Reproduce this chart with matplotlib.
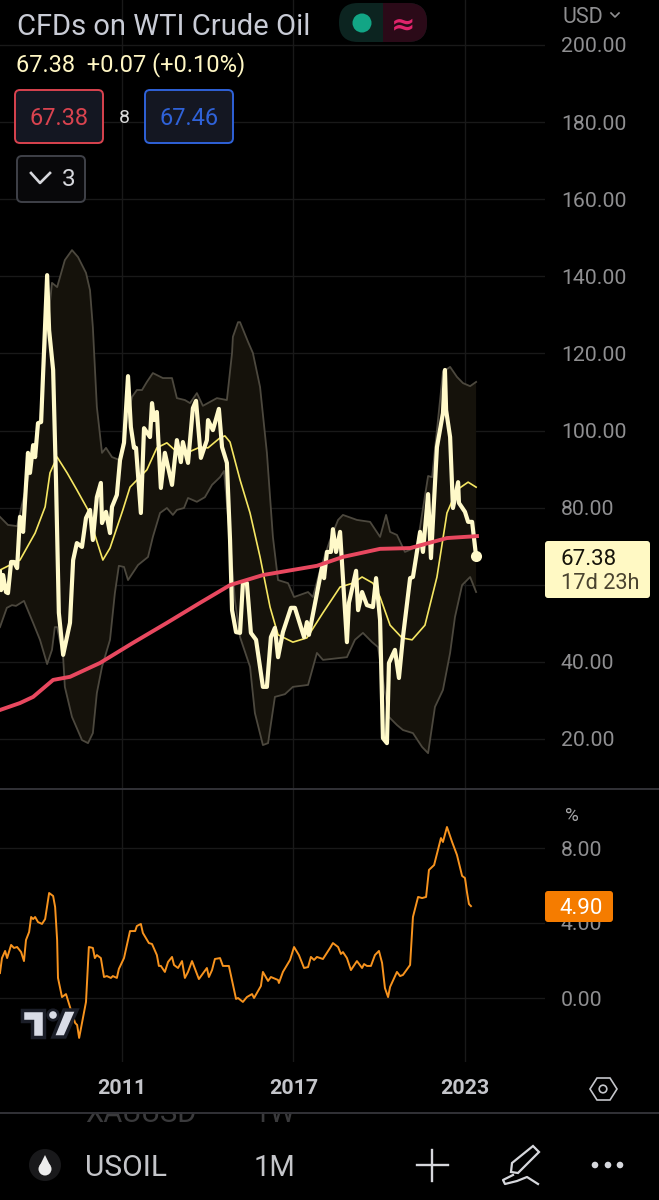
import matplotlib
matplotlib.use("Agg")
import numpy as np
from matplotlib import pyplot as plt
from matplotlib.patches import FancyBboxPatch, Circle, Rectangle, Polygon

plt.rcParams["font.family"] = ["Roboto", "DejaVu Sans"]

# monthly close
price_t = [2006.73, 2006.77, 2006.84, 2006.94, 2007.01, 2007.12, 2007.22, 2007.33, 2007.43, 2007.54,
           2007.71, 2007.78, 2007.89, 2007.96, 2008.06, 2008.17, 2008.38, 2008.45, 2008.59, 2008.69,
           2008.79, 2008.94, 2009.18, 2009.29, 2009.42, 2009.60, 2009.74, 2009.88, 2009.98, 2010.12,
           2010.26, 2010.30, 2010.44, 2010.58, 2010.65, 2010.82, 2010.93, 2011.07, 2011.21, 2011.31,
           2011.42, 2011.49, 2011.66, 2011.77, 2011.98, 2012.05, 2012.12, 2012.22, 2012.36, 2012.50,
           2012.75, 2012.92, 2013.06, 2013.13, 2013.31, 2013.48, 2013.59, 2013.76, 2013.97, 2014.01,
           2014.18, 2014.39, 2014.50, 2014.67, 2014.78, 2014.85, 2014.99, 2015.13, 2015.23, 2015.37,
           2015.51, 2015.69, 2015.93, 2016.07, 2016.21, 2016.35, 2016.46, 2016.63, 2016.91, 2017.05,
           2017.37, 2017.47, 2017.54, 2018.00, 2018.07, 2018.17, 2018.31, 2018.38, 2018.49, 2018.63,
           2018.87, 2018.94, 2019.19, 2019.26, 2019.40, 2019.57, 2019.78, 2019.89, 2020.03, 2020.13,
           2020.27, 2020.34, 2020.55, 2020.69, 2020.83, 2021.08, 2021.18, 2021.43, 2021.53, 2021.71,
           2021.81, 2022.02, 2022.23, 2022.30, 2022.34, 2022.48, 2022.58, 2022.76, 2022.79, 2023.00,
           2023.11, 2023.25, 2023.39]
price_v = [63.3, 58.6, 62.5, 58.1, 57.8, 65.9, 65.9, 64.3, 77.6, 73.7,
           94.2, 89.0, 96.2, 93.1, 101.9, 102.2, 140.3, 126.0, 115.7, 87.2,
           52.7, 41.8, 50.1, 66.4, 70.8, 69.8, 77.3, 79.4, 71.6, 82.7,
           86.4, 76.0, 78.9, 73.4, 80.2, 83.3, 92.3, 96.8, 114.1, 100.9,
           95.5, 95.5, 78.6, 100.6, 98.3, 107.1, 102.7, 104.8, 85.1, 94.2,
           85.9, 97.5, 91.8, 97.0, 91.6, 105.8, 107.7, 92.9, 97.5, 102.7,
           100.1, 105.6, 95.7, 91.6, 71.6, 53.4, 47.7, 47.5, 60.4, 60.4,
           47.5, 45.7, 33.5, 33.5, 46.4, 48.8, 41.2, 47.7, 54.0, 54.0,
           46.4, 50.3, 47.0, 64.6, 61.7, 68.5, 68.5, 74.4, 68.5, 73.7,
           45.1, 55.3, 63.6, 53.4, 58.1, 54.7, 54.2, 61.7, 50.8, 20.2,
           18.9, 39.7, 43.1, 35.8, 46.4, 61.7, 62.0, 73.7, 68.5, 83.5,
           66.9, 95.7, 104.5, 115.7, 105.3, 98.3, 79.9, 86.6, 81.2, 78.9,
           76.3, 76.3, 67.38]

basis_t = [2006.73, 2007.43, 2007.96, 2008.31, 2008.48, 2008.73, 2009.08, 2009.42, 2009.81, 2010.05,
           2010.33, 2010.58, 2011.03, 2011.28, 2011.87, 2012.22, 2012.57, 2012.85, 2013.27, 2013.73,
           2014.01, 2014.43, 2014.60, 2014.78, 2015.13, 2015.48, 2015.83, 2016.18, 2016.46, 2016.98,
           2017.47, 2018.03, 2018.63, 2019.08, 2019.40, 2019.78, 2020.03, 2020.38, 2020.80, 2021.15,
           2021.60, 2022.02, 2022.37, 2022.72, 2023.11, 2023.39]
basis_v = [63.8, 66.4, 73.4, 80.2, 89.0, 93.1, 89.0, 84.6, 79.4, 72.9,
           66.4, 69.5, 79.4, 85.3, 89.8, 95.5, 96.8, 94.9, 94.2, 95.7,
           95.5, 98.1, 98.6, 97.0, 87.2, 78.6, 67.2, 54.2, 47.0, 45.1,
           46.2, 52.7, 59.4, 60.4, 62.0, 60.4, 56.8, 49.5, 46.2, 45.7,
           49.5, 62.0, 78.6, 84.6, 86.6, 85.3]

long_ma_t = [2006.73, 2007.43, 2007.89, 2008.59, 2009.18, 2010.23, 2011.38, 2012.57, 2013.73, 2014.78,
             2015.13, 2015.93, 2017.82, 2018.73, 2020.03, 2021.08, 2022.37, 2023.42]
long_ma_v = [27.5, 29.3, 30.9, 35.3, 36.1, 39.7, 44.9, 50.1, 55.3, 59.9,
             60.7, 62.5, 64.9, 67.2, 69.3, 69.5, 72.1, 72.6]

upper_t = [2006.73, 2007.01, 2007.33, 2007.78, 2008.13, 2008.38, 2008.55, 2008.73, 2009.00, 2009.25,
           2009.46, 2009.74, 2009.88, 2009.98, 2010.12, 2010.30, 2010.44, 2010.65, 2010.93, 2011.10,
           2011.35, 2011.52, 2011.70, 2011.87, 2012.08, 2012.43, 2012.75, 2012.92, 2013.20, 2013.38,
           2013.62, 2013.83, 2014.32, 2014.67, 2014.85, 2014.88, 2015.06, 2015.13, 2015.41, 2015.58,
           2015.83, 2016.07, 2016.28, 2016.46, 2016.81, 2017.02, 2017.51, 2017.68, 2017.93, 2018.28,
           2018.56, 2018.73, 2019.22, 2019.68, 2020.03, 2020.24, 2020.38, 2020.62, 2020.90, 2021.32,
           2021.71, 2021.85, 2022.23, 2022.48, 2022.72, 2022.93, 2023.18, 2023.39]
upper_v = [77.6, 75.5, 75.2, 89.8, 102.7, 126.1, 138.3, 137.2, 144.2, 146.8,
           145.0, 140.9, 136.4, 126.8, 106.1, 94.2, 95.5, 93.1, 92.3, 100.1,
           108.7, 110.5, 110.5, 112.6, 114.9, 113.6, 113.6, 108.4, 107.9, 107.1,
           109.7, 106.4, 108.4, 107.9, 120.1, 124.3, 128.1, 128.1, 123.0, 120.1,
           111.3, 94.2, 72.4, 61.2, 60.4, 56.8, 58.1, 56.8, 63.8, 71.6,
           76.8, 78.1, 76.8, 76.3, 72.4, 78.1, 73.7, 72.9, 68.5, 69.8,
           88.2, 87.9, 115.2, 116.5, 113.9, 112.3, 111.5, 112.6]

lower_t = [2006.73, 2006.97, 2007.15, 2007.29, 2007.57, 2007.89, 2008.13, 2008.38, 2008.55, 2008.65,
           2008.73, 2008.94, 2009.00, 2009.25, 2009.60, 2009.81, 2009.98, 2010.12, 2010.30, 2010.58,
           2010.75, 2010.89, 2011.07, 2011.21, 2011.56, 2011.91, 2012.08, 2012.33, 2012.57, 2012.78,
           2012.92, 2013.17, 2013.31, 2013.62, 2013.90, 2014.15, 2014.43, 2014.57, 2014.78, 2014.95,
           2015.13, 2015.48, 2015.65, 2015.93, 2016.11, 2016.35, 2016.70, 2016.98, 2017.51, 2017.82,
           2018.03, 2018.87, 2019.15, 2019.43, 2019.75, 2019.96, 2020.13, 2020.34, 2020.62, 2020.83,
           2021.18, 2021.50, 2021.71, 2021.95, 2022.23, 2022.48, 2022.65, 2022.90, 2023.18, 2023.39]
lower_v = [49.0, 54.0, 54.7, 54.5, 55.8, 50.1, 45.7, 39.4, 43.1, 49.0,
           49.0, 41.2, 33.5, 25.7, 19.7, 18.9, 21.5, 31.9, 38.7, 45.7,
           57.8, 64.9, 64.6, 61.2, 65.1, 67.2, 72.4, 78.6, 79.9, 78.1,
           79.4, 79.9, 82.5, 81.5, 82.7, 85.9, 87.9, 89.5, 71.6, 56.0,
           46.4, 38.7, 26.7, 18.4, 18.9, 30.9, 31.6, 33.5, 34.0, 42.3,
           40.5, 41.2, 45.7, 47.5, 45.1, 43.8, 35.3, 25.7, 23.6, 22.3,
           21.5, 17.9, 16.3, 28.3, 32.7, 42.3, 51.6, 59.9, 62.0, 58.1]

# lower pane, percent
pct_t = [2006.73, 2006.80, 2006.91, 2006.98, 2007.12, 2007.22, 2007.33, 2007.47, 2007.57, 2007.64,
         2007.75, 2007.82, 2007.89, 2007.96, 2008.06, 2008.20, 2008.31, 2008.45, 2008.59, 2008.66,
         2008.73, 2008.76, 2008.90, 2009.04, 2009.18, 2009.36, 2009.43, 2009.50, 2009.60, 2009.74,
         2009.84, 2009.98, 2010.05, 2010.12, 2010.26, 2010.37, 2010.47, 2010.61, 2010.68, 2010.82,
         2010.89, 2011.07, 2011.28, 2011.46, 2011.52, 2011.66, 2011.73, 2011.94, 2012.05, 2012.22,
         2012.29, 2012.36, 2012.50, 2012.61, 2012.75, 2012.82, 2012.96, 2013.10, 2013.20, 2013.31,
         2013.45, 2013.69, 2013.97, 2014.04, 2014.15, 2014.25, 2014.43, 2014.53, 2014.74, 2014.99,
         2015.06, 2015.23, 2015.37, 2015.55, 2015.62, 2015.86, 2015.93, 2016.11, 2016.21, 2016.46,
         2016.49, 2016.63, 2016.88, 2017.02, 2017.19, 2017.37, 2017.51, 2017.61, 2017.72, 2017.82,
         2018.03, 2018.28, 2018.38, 2018.56, 2018.66, 2018.73, 2018.87, 2019.01, 2019.22, 2019.40,
         2019.47, 2019.57, 2019.71, 2019.85, 2019.99, 2020.10, 2020.20, 2020.31, 2020.38, 2020.62,
         2020.73, 2020.83, 2021.08, 2021.18, 2021.36, 2021.50, 2021.64, 2021.74, 2021.92, 2022.16,
         2022.23, 2022.37, 2022.55, 2022.72, 2022.90, 2023.00, 2023.07, 2023.14, 2023.21]
pct_v = [1.33, 2.13, 2.51, 2.13, 2.83, 2.67, 2.72, 2.45, 1.97, 3.09,
         3.52, 4.32, 4.21, 4.32, 4.05, 3.95, 4.21, 5.60, 5.44, 4.85,
         3.09, 1.07, 0.05, 0.21, -0.48, -1.33, -1.44, -2.13, -1.33, -0.21,
         2.72, 2.67, 2.13, 2.29, 2.13, 1.12, 1.17, 1.07, 1.17, 1.07,
         1.55, 2.13, 3.57, 3.57, 3.84, 3.95, 3.47, 2.93, 2.88, 2.29,
         1.71, 1.71, 1.39, 1.92, 2.19, 1.76, 1.60, 1.97, 1.07, 1.39,
         1.97, 1.01, 1.60, 1.12, 1.49, 2.08, 2.13, 1.71, 1.71, -0.05,
         0.00, -0.21, 0.05, 0.21, 0.00, 0.64, 1.39, 0.91, 1.12, 0.96,
         0.80, 1.39, 2.03, 2.72, 2.29, 1.60, 1.65, 2.19, 2.03, 2.19,
         2.08, 2.67, 2.93, 2.72, 2.35, 2.45, 2.13, 1.49, 1.97, 1.60,
         1.81, 1.71, 1.71, 2.29, 2.51, 1.87, 0.53, 0.05, 0.59, 1.39,
         1.17, 1.23, 1.76, 4.32, 5.39, 5.33, 5.39, 6.83, 7.09, 8.53,
         8.32, 9.12, 8.32, 7.63, 6.51, 6.40, 5.65, 5.01, 4.90]

price_ticks = [20, 40, 60, 80, 100, 120, 140, 160, 180, 200]
pct_ticks = [0, 4, 8]
year_ticks = [2011, 2017, 2023]
year_labels = ["2011", "2017", "2023"]

W, H = 659, 1200
T0 = 2006.731
T_PER_PX = 0.03499
GRID = "#191919"
TICK = "#8f8f91"

fig = plt.figure(figsize=(W / 100, H / 100), dpi=100, facecolor="black")


def px_axes(left, top, right, bottom):
    return fig.add_axes([left / W, 1 - bottom / H, (right - left) / W, (bottom - top) / H])


def style_pane(ax):
    ax.set_facecolor("black")
    for s in ax.spines.values():
        s.set_visible(False)
    ax.set_xlim(T0, T0 + 545 * T_PER_PX)
    ax.yaxis.tick_right()
    ax.tick_params(axis="y", length=0, pad=11.5, labelsize=15.3, labelcolor=TICK)
    ax.grid(True, color=GRID, lw=1.0)
    ax.set_axisbelow(True)
    ax.set_xticks(year_ticks)


ax = px_axes(0, 0, 545, 788)
style_pane(ax)
ax.set_ylim((816 - 788) / 3.855, 816 / 3.855)
# the 60.00 label sits behind the last price tag, so it stays blank
ax.set_yticks(price_ticks, ["" if v == 60 else "%.2f" % v for v in price_ticks])
ax.tick_params(axis="x", length=0, labelbottom=False)

band_x = np.r_[upper_t, lower_t[::-1]]
band_y = np.r_[upper_v, lower_v[::-1]]
ax.fill(band_x, band_y, color="#15120b", lw=0, zorder=2)
ax.plot(upper_t, upper_v, color="#4c483e", lw=1.3, zorder=3)
ax.plot(lower_t, lower_v, color="#4c483e", lw=1.3, zorder=3)
ax.plot(basis_t, basis_v, color="#f5e663", lw=1.2, zorder=4)
ax.plot(price_t, price_v, color="#fff9c9", lw=3.0, solid_joinstyle="round", zorder=5)
ax.plot(long_ma_t, long_ma_v, color="#e8485f", lw=2.8, zorder=6)
ax.plot(price_t[-1], price_v[-1], "o", color="#fff9c9", ms=8, mew=0, zorder=7)

ax2 = px_axes(0, 789, 545, 1062)
style_pane(ax2)
ax2.set_ylim((998 - 1062) / 18.75, (998 - 789) / 18.75)
ax2.set_yticks(pct_ticks, ["%.2f" % v for v in pct_ticks])
ax2.set_xticks(year_ticks, year_labels)
ax2.tick_params(axis="x", length=0, pad=12, labelsize=15.4, labelcolor="#c4c5ca")
for lab in ax2.get_xticklabels():
    lab.set_fontweight("bold")
ax2.plot(pct_t, pct_v, color="#f7931e", lw=1.4, zorder=4)

# app chrome drawn in pixel coordinates
ui = fig.add_axes([0, 0, 1, 1], zorder=10)
ui.set_xlim(0, W)
ui.set_ylim(H, 0)
ui.axis("off")


def box(x0, y0, x1, y1, fc, ec="none", lw=1.4, r=5, z=2):
    p = FancyBboxPatch((x0 + r, y0 + r), x1 - x0 - 2 * r, y1 - y0 - 2 * r,
                       boxstyle="round,pad=%d,rounding_size=%d" % (r, r),
                       fc=fc, ec=ec, lw=lw, zorder=z)
    ui.add_patch(p)
    return p


def label(x, y, s, size, color, ha="left", **kw):
    return ui.text(x, y, s, fontsize=size, color=color, ha=ha, va="center_baseline", **kw)


ui.axhline(789, color="#3a3a40", lw=1.2)
ui.axhline(1113, color="#3a3a40", lw=1.2)

label(17, 24, "CFDs on WTI Crude Oil", 21, "#c9ccd6")
label(16, 62, "67.38  +0.07 (+0.10%)", 17, "#fff7c4")

box(15, 90, 103, 143, "#141722", "#d9434f")
label(59, 116, "67.38", 17, "#d9434f", ha="center")
label(124, 116, "8", 14, "#d8d8d8", ha="center")
box(145, 90, 233, 143, "#141722", "#2f62d8")
label(189, 116, "67.46", 17, "#2f62d8", ha="center")
box(17, 156, 85, 202, "#08080a", "#3f4148")
ui.plot([31, 40, 50], [173, 183, 173], color="#d6d7dc", lw=1.9)
label(69, 177, "3", 17.5, "#d6d7dc", ha="center")

# status pill, green half on the left
pill_a = box(339, 3, 427, 42, "#0c2420", r=19)
pill_b = box(339, 3, 427, 42, "#2b0a18", r=19, z=3)
pill_b.set_clip_path(Rectangle((383, 0), 50, 50, transform=ui.transData))
ui.add_patch(Circle((362, 23), 9.5, fc="#12a585", ec="none", zorder=4))
label(403, 22, "≈", 21, "#e0246b", ha="center", fontweight="bold", zorder=4,
      family=["DejaVu Sans"])

label(563, 15, "USD", 15.5, "#8f8f91")
ui.plot([611, 615, 619], [13, 17, 13], color="#8f8f91", lw=1.2)

box(545, 541, 650, 598, "#fff9c4", r=3, z=4)
label(561, 557, "67.38", 16, "#15130a", zorder=5)
label(561, 581, "17d 23h", 15.7, "#4a4430", zorder=5)

label(572, 814, "%", 13.5, "#a6a6a8", ha="center")
box(545, 891, 613, 922, "#f57c00", r=3, z=4)
label(581, 906, "4.90", 16, "white", ha="center", zorder=5)

# tradingview mark
logo = "#d9dce6"
edge = "#1b1e28"
ui.add_patch(Polygon([(22, 1010), (44, 1010), (44, 1037), (32, 1037), (32, 1021), (22, 1021)],
                     fc=logo, ec=edge, lw=2.5, zorder=3))
ui.add_patch(Circle((53, 1015), 5.2, fc=logo, ec=edge, lw=2, zorder=3))
ui.add_patch(Polygon([(64, 1010), (77, 1010), (65, 1037), (53, 1037)],
                     fc=logo, ec=edge, lw=2.5, zorder=3))

# settings hexagon
hex_x = [590, 597, 610, 617, 610, 597]
hex_y = [1089, 1078, 1078, 1089, 1100, 1100]
ui.add_patch(Polygon(list(zip(hex_x, hex_y)), fc="none", ec="#c4c5ca", lw=1.2))
ui.add_patch(Circle((603, 1089), 3.8, fc="none", ec="#c4c5ca", lw=1.2))

# bottom bar, the row scrolled under the line is cut by it
clip = Rectangle((0, 1114), W, 20, transform=ui.transData)
for x, s in [(85, "XAUUSD"), (254, "1W")]:
    t = label(x, 1111, s, 21, "#3a3a3c")
    t.set_clip_path(clip)
    t.set_clip_on(True)
label(85, 1165, "USOIL", 21.5, "#c4c5c9")
label(254, 1165, "1M", 21, "#c4c5c9")

ui.add_patch(Circle((45, 1165), 16, fc="#19191b", ec="none"))
ui.add_patch(Circle((45, 1169), 6.5, fc="#ececec", ec="none", zorder=3))
ui.add_patch(Polygon([(45, 1155), (39.6, 1166), (50.4, 1166)], fc="#ececec", ec="none", zorder=3))

ui.plot([417, 448], [1165, 1165], color="#d6d7dc", lw=1.7)
ui.plot([432, 432], [1150, 1181], color="#d6d7dc", lw=1.7)

pen_x = [512, 533, 539, 518, 511]
pen_y = [1163, 1146, 1152, 1173, 1172]
ui.add_patch(Polygon(list(zip(pen_x, pen_y)), fc="none", ec="#d6d7dc", lw=1.6))
ui.plot([513, 503, 505, 517, 527, 538], [1175, 1180, 1184, 1181, 1177, 1184], color="#d6d7dc", lw=1.6)

for x in [595, 608, 620]:
    ui.add_patch(Circle((x, 1165), 3.3, fc="#d6d7dc", ec="none"))

fig.savefig("out.png", dpi=100, facecolor="black")
